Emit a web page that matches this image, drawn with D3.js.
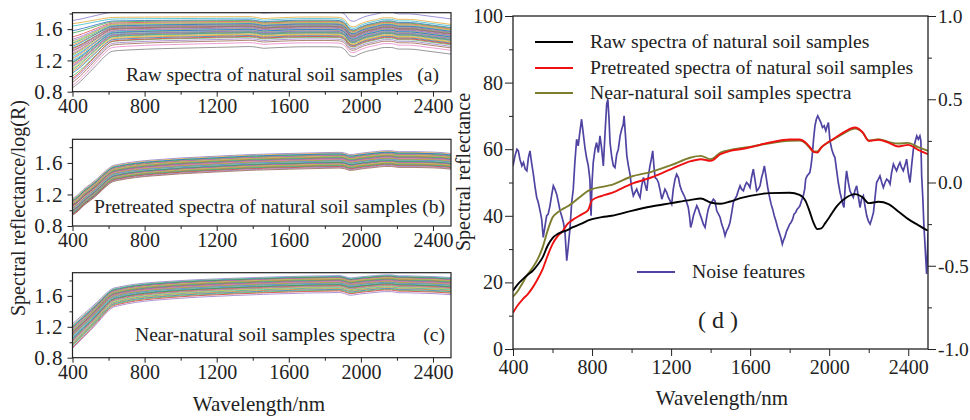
<!DOCTYPE html>
<html><head><meta charset="utf-8">
<script src="https://cdn.jsdelivr.net/npm/d3@7"></script>
<style>
body{margin:0;background:#fff;}
</style></head><body>
<svg id="c" width="970" height="420"></svg>
<script>
// ---------- DATA ----------
const WL = [400,430,460,500,540,580,620,660,700,800,900,1000,1100,1200,1300,1380,1420,1460,1500,1600,1700,1800,1880,1910,1940,1960,1990,2030,2080,2130,2170,2210,2250,2300,2350,2400,2450,2500];

// (a) raw spectra: value at 400 nm and at 1400 nm for each sample, plus common shape
const rawAt400  = [1.71,1.67,1.64,1.58,1.55,1.50,1.47,1.45,1.43,1.42,1.40,1.38,1.36,1.35,1.33,1.32,1.30,1.28,1.27,1.25,1.23,1.22,1.20,1.18,1.17,1.15,1.13,1.12,1.10,1.08,1.06,1.04,1.00,0.97,0.95,0.92,0.88,0.85];
const rawAt1400 = [1.83,1.76,1.74,1.72,1.71,1.70,1.69,1.68,1.69,1.67,1.66,1.67,1.65,1.64,1.66,1.63,1.62,1.64,1.61,1.60,1.62,1.59,1.58,1.60,1.57,1.56,1.58,1.55,1.54,1.56,1.53,1.52,1.50,1.51,1.48,1.46,1.43,1.38];
const rawRise = [0,.1,.22,.4,.58,.76,.88,.9,.91,.93,.945,.955,.965,.975,.985,.995,1,1,1,1,1,1,1,1,1,1,1,1,1,1,1,1,1,1,1,1,1,1];
const rawDip  = [0,0,0,0,0,0,0,0,0,0,0,0,0,0,0,0,-0.01,-0.025,-0.02,-0.01,-0.005,-0.005,-0.01,-0.04,-0.12,-0.13,-0.1,-0.065,-0.04,-0.015,-0.015,-0.035,-0.035,-0.04,-0.055,-0.07,-0.085,-0.1];

// (b) pretreated spectra
const preAt400  = [1.15,1.14,1.13,1.12,1.12,1.11,1.10,1.10,1.09,1.08,1.08,1.07,1.06,1.06,1.05,1.05,1.04,1.03,1.03,1.02,1.02,1.01,1.00,1.00,0.99,0.99,0.98,0.98,0.97,0.97,0.96,0.96,0.95,0.95,0.94,0.94];
const preAt1600 = [1.72,1.71,1.70,1.70,1.69,1.68,1.68,1.67,1.67,1.66,1.66,1.65,1.65,1.64,1.64,1.63,1.63,1.62,1.62,1.61,1.61,1.60,1.60,1.59,1.59,1.58,1.58,1.57,1.57,1.56,1.56,1.55,1.55,1.54,1.53,1.52];
const preRise = [0,.08,.2,.32,.45,.6,.72,.76,.79,.84,.87,.9,.92,.94,.96,.975,.98,.985,.99,1,1.01,1.02,1.025,1.01,.975,.98,1.0,1.02,1.04,1.06,1.06,1.04,1.04,1.04,1.035,1.03,1.02,1.0];

// (c) near-natural spectra
const nearAt400  = [1.24,1.22,1.21,1.20,1.19,1.18,1.17,1.16,1.15,1.15,1.14,1.13,1.12,1.12,1.11,1.10,1.09,1.09,1.08,1.07,1.06,1.05,1.05,1.04,1.03,1.02,1.01,1.00,0.99,0.98,0.97,0.96,0.95,0.93,0.92];
const nearAt1600 = [1.85,1.84,1.84,1.83,1.83,1.82,1.82,1.81,1.81,1.80,1.80,1.79,1.79,1.78,1.78,1.77,1.77,1.76,1.76,1.75,1.75,1.74,1.74,1.73,1.73,1.72,1.71,1.71,1.70,1.69,1.68,1.67,1.66,1.65,1.63];
const nearRise = [0,.1,.2,.33,.47,.62,.74,.78,.81,.86,.89,.915,.935,.95,.965,.975,.98,.985,.99,1,1.01,1.015,1.02,1.0,.97,.975,.99,1.005,1.02,1.035,1.035,1.015,1.015,1.01,1.005,1.0,.99,.98];

// (d) mean spectra
const dWL    = [400,425,450,475,500,525,550,575,600,625,650,675,700,750,780,800,850,900,1000,1100,1200,1300,1350,1400,1450,1500,1550,1600,1700,1800,1850,1880,1900,1920,1940,1960,1980,2000,2040,2080,2130,2170,2200,2250,2300,2350,2400,2450,2500];
const dRaw   = [17.5,19.5,21.0,22.3,23.5,25.3,27.5,31.0,33.3,34.5,35.2,35.7,36.5,37.7,38.6,39.0,39.6,40.0,41.5,42.8,43.8,44.8,45.2,44.0,43.6,44.3,45.3,46.0,46.8,46.9,46.3,44.5,41.5,38.0,36.0,36.2,37.8,39.5,43.0,45.2,46.5,45.5,43.8,44.2,43.5,41.3,39.0,37.2,35.5];
const dPre   = [10.9,13.2,15.0,16.5,18.5,21.0,24.0,28.0,31.5,33.8,35.3,37.5,38.7,40.5,41.7,44.7,46.0,46.9,49.6,51.5,54.0,56.4,57.0,56.5,58.5,59.5,60.0,60.6,62.0,62.9,62.9,62.0,60.8,59.3,59.0,60.5,61.5,62.3,63.8,65.3,66.5,65.0,62.5,62.8,62.0,60.8,61.3,59.8,58.5];
const dNear  = [15.7,17.5,20.0,22.5,24.5,27.0,30.5,35.5,39.5,41.0,42.0,42.8,43.8,46.2,47.5,48.0,48.7,49.3,51.8,53.2,55.2,57.5,58.0,57.0,59.0,59.8,60.3,60.7,61.8,62.5,62.6,61.8,60.5,59.3,59.3,60.6,61.5,62.2,63.6,65.0,66.2,65.0,62.6,63.0,62.2,61.7,61.9,60.6,59.5];

// noise features (right axis): wavelength / value
const noiseWL = [400,410,420,427,435,445,453,462,470,478,486,494,503,512,520,528,537,545,553,561,570,578,587,595,604,612,621,630,638,646,655,663,672,680,688,697,705,713,722,730,738,747,755,764,772,781,789,795,800,806,815,823,832,840,849,857,866,874,880,886,891,900,908,916,925,933,942,950,958,962,968,976,984,992,1000,1009,1017,1026,1035,1043,1051,1060,1068,1077,1085,1093,1100,1107,1113,1119,1128,1136,1145,1153,1161,1169,1178,1186,1195,1203,1211,1220,1228,1237,1245,1254,1262,1270,1279,1287,1293,1299,1306,1313,1321,1330,1338,1346,1355,1363,1372,1380,1388,1397,1405,1414,1422,1431,1440,1448,1456,1465,1473,1481,1490,1498,1507,1515,1523,1532,1540,1549,1557,1566,1574,1582,1590,1599,1607,1616,1624,1633,1641,1650,1658,1665,1672,1680,1689,1697,1706,1714,1722,1730,1739,1747,1755,1763,1768,1775,1785,1793,1800,1807,1815,1822,1830,1838,1846,1852,1860,1869,1876,1881,1888,1895,1902,1908,1914,1921,1928,1935,1942,1950,1958,1966,1975,1983,1990,1996,2004,2013,2021,2029,2038,2046,2055,2063,2069,2075,2082,2088,2097,2105,2113,2122,2130,2139,2147,2156,2164,2173,2181,2190,2198,2207,2215,2224,2232,2240,2249,2257,2266,2274,2283,2291,2300,2308,2316,2325,2333,2341,2350,2358,2366,2375,2383,2392,2400,2409,2417,2426,2434,2443,2451,2459,2464,2468,2474,2479,2486,2493,2497,2500];
const noiseVal = [0.10,0.16,0.20,0.19,0.14,0.10,0.12,0.08,0.07,0.15,0.19,0.12,0.05,-0.03,-0.09,-0.12,-0.17,-0.22,-0.33,-0.27,-0.20,-0.19,-0.14,-0.08,-0.02,-0.04,-0.07,-0.12,-0.17,-0.20,-0.24,-0.30,-0.47,-0.38,-0.28,-0.12,-0.04,0.12,0.26,0.22,0.30,0.38,0.30,0.21,0.15,0.10,0.02,-0.20,0.00,0.12,0.20,0.24,0.18,0.28,0.20,0.10,0.30,0.47,0.50,0.38,0.24,0.15,0.10,0.09,0.17,0.20,0.28,0.32,0.35,0.40,0.30,0.16,0.10,0.05,-0.03,-0.08,-0.06,-0.04,-0.07,-0.09,-0.02,0.03,-0.01,-0.05,0.04,0.10,0.14,0.19,0.10,0.03,0.02,0.00,-0.05,-0.10,-0.07,-0.04,-0.06,-0.09,-0.11,-0.13,-0.04,0.02,0.05,0.03,-0.02,-0.05,-0.07,-0.09,-0.12,-0.15,-0.20,-0.27,-0.24,-0.20,-0.17,-0.14,-0.16,-0.19,-0.22,-0.25,-0.27,-0.21,-0.16,-0.13,-0.12,-0.10,-0.11,-0.17,-0.19,-0.21,-0.25,-0.28,-0.32,-0.29,-0.27,-0.24,-0.18,-0.12,-0.10,-0.08,-0.05,-0.02,-0.04,-0.05,-0.02,0.00,-0.01,-0.03,0.03,0.08,0.02,-0.05,-0.04,-0.02,0.03,0.06,0.10,0.04,-0.03,-0.08,-0.13,-0.16,-0.20,-0.23,-0.27,-0.30,-0.33,-0.37,-0.35,-0.33,-0.29,-0.27,-0.25,-0.24,-0.22,-0.19,-0.18,-0.16,-0.15,-0.14,-0.11,-0.08,-0.04,0.02,0.04,0.05,0.06,0.10,0.16,0.26,0.34,0.38,0.40,0.38,0.36,0.33,0.34,0.31,0.34,0.36,0.25,0.20,0.17,0.15,0.07,0.00,-0.06,-0.10,-0.13,-0.15,0.00,0.07,0.00,-0.05,-0.07,-0.09,-0.05,-0.02,-0.08,-0.15,-0.10,-0.08,-0.14,-0.20,-0.23,-0.25,-0.22,-0.18,-0.09,0.00,0.02,0.04,0.00,-0.03,0.00,0.02,0.01,-0.01,0.06,0.11,0.09,0.07,0.10,0.12,0.09,0.07,0.10,0.14,0.06,0.00,0.10,0.20,0.24,0.28,0.26,0.28,0.25,0.04,-0.10,-0.25,-0.40,-0.55,-0.45,-0.30];

const xTicks = [400,800,1200,1600,2000,2400];
const xMinor = [600,1000,1400,1800,2200];
const abcYTicks = [0.8,1.2,1.6];
const abcYMinor = [1.0,1.4,1.8];
const dLeftTicks = [0,20,40,60,80,100];
const dLeftMinor = [10,30,50,70,90];
const dRightTicks = [-1.0,-0.5,0.0,0.5,1.0];
const dRightMinor = [-0.75,-0.25,0.25,0.75];

const palette = ["#8a78d0","#e8a838","#3cbccc","#2f6cc8","#3ea64a","#e05050","#a86cc8","#9a9a9a","#c8c83a","#34b0a0","#f08a2a","#2a80c0","#5cb85c","#d43c3c","#9a7ac8","#9a6a50","#e884c8","#808080","#b8b82a","#22bcd0"];

const FONT = "'Liberation Serif','Times New Roman',Times,serif";
const fmt1 = d => d.toFixed(1);   // plain hyphen minus

// ---------- DRAW ----------
const svg = d3.select("#c");
svg.append("rect").attr("width",970).attr("height",420).attr("fill","#fff");

function styleAxis(g, fs){
  g.attr("font-family",null).attr("font-size",null);
  g.select(".domain").remove();
  g.selectAll("line").attr("stroke","#222").attr("stroke-width",1);
  g.selectAll("text").attr("font-size",fs).style("fill","#222");
  return g;
}

function smallPanel(id, top, bottom, yMax, starts, anchors, rise, dip){
  const x = d3.scaleLinear().domain([400,2500]).range([72.5,451]);
  const y = d3.scaleLinear().domain([0.8,yMax]).range([bottom,top]);
  const g = svg.append("g");
  g.append("clipPath").attr("id",id).append("rect")
    .attr("x",72.5).attr("y",top).attr("width",451-72.5).attr("height",bottom-top);
  const line = d3.line().x((d,i)=>x(WL[i])).y(d=>y(d)).curve(d3.curveMonotoneX);
  const curves = starts.map((s,j)=>WL.map((w,k)=> s + (anchors[j]-s)*rise[k] + (dip?dip[k]:0)));
  g.append("g").attr("clip-path",`url(#${id})`).selectAll("path").data(curves).join("path")
    .attr("d",line).attr("fill","none")
    .attr("stroke",(d,j)=>palette[j%palette.length]).attr("stroke-width",0.9).attr("opacity",0.9);
  styleAxis(g.append("g").attr("transform",`translate(0,${bottom})`)
    .call(d3.axisBottom(x).tickValues(xTicks).tickSize(5).tickPadding(2).tickFormat(d3.format("d"))),20);
  styleAxis(g.append("g").attr("transform",`translate(0,${bottom})`)
    .call(d3.axisBottom(x).tickValues(xMinor).tickSize(3).tickFormat("")),20);
  styleAxis(g.append("g").attr("transform",`translate(72.5,0)`)
    .call(d3.axisLeft(y).tickValues(abcYTicks).tickSize(5).tickPadding(4).tickFormat(fmt1)),21)
    .selectAll("text").attr("letter-spacing",1);
  styleAxis(g.append("g").attr("transform",`translate(72.5,0)`)
    .call(d3.axisLeft(y).tickValues(abcYMinor.filter(v=>v<yMax)).tickSize(3).tickFormat("")),20);
  g.append("rect").attr("x",72.5).attr("y",top).attr("width",451-72.5).attr("height",bottom-top)
    .attr("fill","none").attr("stroke","#222").attr("stroke-width",1.2);
  return g;
}

smallPanel("cpa",12.7,91.7,1.81,rawAt400,rawAt1400,rawRise,rawDip);
smallPanel("cpb",139.3,226,1.9,preAt400,preAt1600,preRise,null);
smallPanel("cpc",272.7,357.7,1.9,nearAt400,nearAt1600,nearRise,null);

const lab = (t,x,y,fs,anchor)=>svg.append("text").text(t).attr("x",x).attr("y",y)
  .attr("font-size",fs).attr("text-anchor",anchor||"start");
lab("Raw spectra of natural soil samples",126,81,19.5);
lab("(a)",439,81,19.5,"end");
lab("Pretreated spectra of natural soil samples",94,212.5,19.7);
lab("(b)",445,212.5,19.5,"end");
lab("Near-natural soil samples spectra",135,341,19.6);
lab("(c)",445,341,19.5,"end");
lab("Wavelength/nm",259,411,21,"middle");
svg.append("text").text("Spectral reflectance/log(R)").attr("font-size",20)
  .attr("text-anchor","middle").attr("transform","translate(25,208) rotate(-90)");

// ---------- panel d ----------
const L=513, R=928, T=16, B=349;
const xd = d3.scaleLinear().domain([400,2500]).range([L,R]);
const yl = d3.scaleLinear().domain([0,100]).range([B,T]);
const yr = d3.scaleLinear().domain([-1,1]).range([B,T]);
const gd = svg.append("g");
gd.append("clipPath").attr("id","cpd").append("rect").attr("x",L).attr("y",T).attr("width",R-L).attr("height",B-T);
const gl = gd.append("g").attr("clip-path","url(#cpd)");
gl.append("path").datum(noiseVal)
  .attr("d",d3.line().x((d,i)=>xd(noiseWL[i])).y(d=>yr(d)))
  .attr("fill","none").attr("stroke","#4f44a2").attr("stroke-width",1.7);
const meanLine = d3.line().x((d,i)=>xd(dWL[i])).y(d=>yl(d)).curve(d3.curveMonotoneX);
[[dNear,"#7d7d2e"],[dPre,"#ee1111"],[dRaw,"#000"]].forEach(([arr,c])=>{
  gl.append("path").datum(arr).attr("d",meanLine).attr("fill","none").attr("stroke",c).attr("stroke-width",1.9);
});

styleAxis(gd.append("g").attr("transform",`translate(0,${B})`)
  .call(d3.axisBottom(xd).tickValues(xTicks).tickSize(7).tickPadding(4).tickFormat(d3.format("d"))),20);
styleAxis(gd.append("g").attr("transform",`translate(0,${B})`)
  .call(d3.axisBottom(xd).tickValues(xMinor).tickSize(4).tickFormat("")),20);
styleAxis(gd.append("g").attr("transform",`translate(${L},0)`)
  .call(d3.axisLeft(yl).tickValues(dLeftTicks).tickSize(8).tickPadding(2).tickFormat(d3.format("d"))),20);
styleAxis(gd.append("g").attr("transform",`translate(${L},0)`)
  .call(d3.axisLeft(yl).tickValues(dLeftMinor).tickSize(4).tickFormat("")),20);
styleAxis(gd.append("g").attr("transform",`translate(${R},0)`)
  .call(d3.axisRight(yr).tickValues(dRightTicks).tickSize(8).tickPadding(2).tickFormat(fmt1)),19.5);
styleAxis(gd.append("g").attr("transform",`translate(${R},0)`)
  .call(d3.axisRight(yr).tickValues(dRightMinor).tickSize(4).tickFormat("")),20);
gd.append("rect").attr("x",L).attr("y",T).attr("width",R-L).attr("height",B-T)
  .attr("fill","none").attr("stroke","#222").attr("stroke-width",1.3);

// legend
const legendItems = [
  {t:"Raw spectra of natural soil samples", c:"#000", x:535, y:42},
  {t:"Pretreated spectra of natural soil samples", c:"#ee1111", x:535, y:68},
  {t:"Near-natural soil samples spectra", c:"#7d7d2e", x:535, y:93},
  {t:"Noise features", c:"#4f44a2", x:637, y:272}
];
legendItems.forEach(d=>{
  gd.append("line").attr("x1",d.x).attr("x2",d.x+38).attr("y1",d.y).attr("y2",d.y)
    .attr("stroke",d.c).attr("stroke-width",2.2);
  gd.append("text").text(d.t).attr("x",d.x+55).attr("y",d.y+6).attr("font-size",19.7);
});
lab("( d )",718,328,24,"middle");
lab("Wavelength/nm",722,405,21,"middle");
svg.append("text").text("Spectral reflectance").attr("font-size",20)
  .attr("text-anchor","middle").attr("transform","translate(470,172) rotate(-90)");

// font for every text
svg.selectAll("text").style("font-family",FONT).style("fill","#222");
</script></body></html>
